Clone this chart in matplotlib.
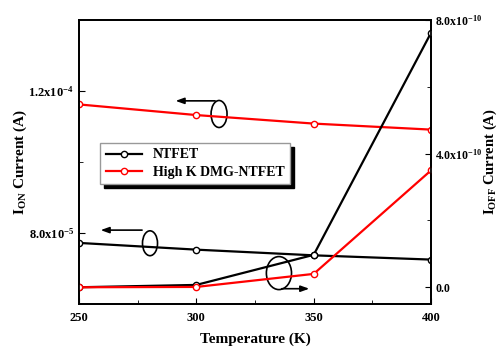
import matplotlib
matplotlib.use("Agg")
from matplotlib import pyplot as plt
from matplotlib.patches import Ellipse

plt.rcParams["font.family"] = "Liberation Serif"
plt.rcParams["font.weight"] = "bold"
plt.rcParams["mathtext.fontset"] = "custom"
plt.rcParams["mathtext.rm"] = "Liberation Serif:bold"
plt.rcParams["mathtext.bf"] = "Liberation Serif:bold"
plt.rcParams["mathtext.default"] = "bf"

temperature = [250, 300, 350, 400]
ion_ntfet = [7.72e-5, 7.53e-5, 7.37e-5, 7.25e-5]
ion_highk = [1.162e-4, 1.132e-4, 1.108e-4, 1.091e-4]
ioff_ntfet = [0.0, 0.07e-10, 0.97e-10, 7.62e-10]
ioff_highk = [0.0, 0.01e-10, 0.40e-10, 3.50e-10]

left_ticks = [8.0e-5, 1.2e-4]
left_labels = ["8.0x10$^{-5}$", "1.2x10$^{-4}$"]
right_ticks = [0.0, 4.0e-10, 8.0e-10]
right_labels = ["0.0", "4.0x10$^{-10}$", "8.0x10$^{-10}$"]

fig = plt.figure(figsize=(4.99, 3.49), dpi=100)
ax = fig.add_axes([0.158, 0.129, 0.706, 0.814])
ax2 = ax.twinx()

line_kw = dict(lw=1.6, marker="o", ms=4.5, mfc="white", mew=1.0)
l1, = ax.plot(temperature, ion_ntfet, color="black", label="NTFET", **line_kw)
l2, = ax.plot(temperature, ion_highk, color="red", label="High K DMG-NTFET", **line_kw)
ax2.plot(temperature, ioff_ntfet, color="black", **line_kw)
ax2.plot(temperature, ioff_highk, color="red", **line_kw)

ax.set_xlim(250, 400)
ax.set_ylim(6.0e-5, 1.4e-4)
ax2.set_ylim(-0.5e-10, 8.0e-10)

ax.set_xticks([250, 300, 350, 400])
ax.set_xticks([275, 325, 375], minor=True)
ax.set_yticks(left_ticks)
ax.set_yticklabels(left_labels)
ax.set_yticks([1.0e-4], minor=True)
ax2.set_yticks(right_ticks)
ax2.set_yticklabels(right_labels)
ax2.set_yticks([2.0e-10, 6.0e-10], minor=True)

for a in (ax, ax2):
    a.tick_params(which="both", direction="in", labelsize=9)
    a.tick_params(which="major", length=4)
    a.tick_params(which="minor", length=3)
    for s in a.spines.values():
        s.set_linewidth(1.3)
ax.tick_params(axis="y", right=False)
ax.tick_params(axis="x", pad=6)
ax2.tick_params(axis="y", labelsize=8.5, pad=3)

ax.set_xlabel("Temperature (K)", fontsize=11, fontweight="bold", labelpad=6)
ax.set_ylabel("I$_{ON}$ Current (A)", fontsize=11, fontweight="bold", va="center")
ax2.set_ylabel("I$_{OFF}$ Current (A)", fontsize=10.5, fontweight="bold", va="center")
ax.yaxis.set_label_coords(-0.165, 0.5)
ax2.yaxis.set_label_coords(1.168, 0.5)

leg = ax.legend(handles=[l1, l2], loc="upper left", bbox_to_anchor=(0.06, 0.567),
                borderaxespad=0, fancybox=False,
                shadow={"color": "black", "alpha": 1, "ox": 3, "oy": -3},
                fontsize=10, handlelength=2.6, borderpad=0.4, labelspacing=0.3,
                framealpha=1)
leg.get_frame().set_edgecolor("#999999")
leg.set_zorder(10)

arrow_kw = dict(arrowstyle="-|>,head_length=0.5,head_width=0.18", color="black", lw=1.2)
ax.add_patch(Ellipse((309.7, 1.135e-4), 6.8, 0.76e-5, fill=False, lw=1.2, color="black"))
ax.annotate("", xy=(290, 1.172e-4), xytext=(309.2, 1.172e-4), arrowprops=arrow_kw)
ax.add_patch(Ellipse((280.3, 7.71e-5), 6.4, 0.70e-5, fill=False, lw=1.2, color="black"))
ax.annotate("", xy=(258.1, 8.08e-5), xytext=(278.1, 8.08e-5), arrowprops=arrow_kw)
ax.add_patch(Ellipse((335.2, 6.87e-5), 10.7, 0.93e-5, fill=False, lw=1.2, color="black"))
ax.annotate("", xy=(349.3, 6.43e-5), xytext=(335.2, 6.43e-5), arrowprops=arrow_kw)

fig.savefig("out.png", dpi=100)
